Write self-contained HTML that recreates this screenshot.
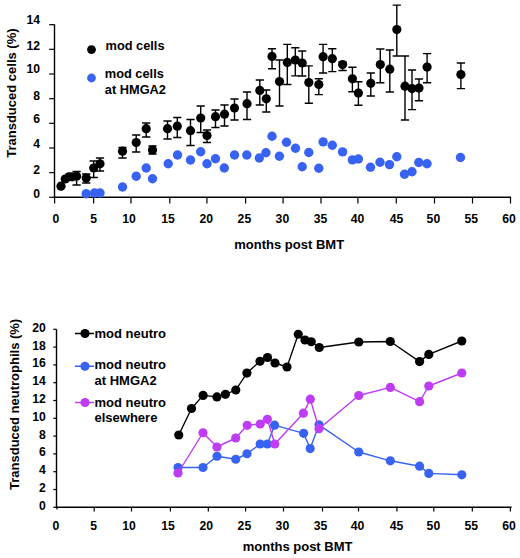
<!DOCTYPE html>
<html><head><meta charset="utf-8"><style>
html,body{margin:0;padding:0;background:#fff;}
body{width:520px;height:558px;overflow:hidden;}
svg{display:block;}
text{font-family:"Liberation Sans",sans-serif;font-weight:bold;fill:#000;}
</style></head><body>
<svg width="520" height="558" viewBox="0 0 520 558">
<rect width="520" height="558" fill="#fff"/>
<line x1="54.5" y1="24.4" x2="54.5" y2="198.0" stroke="#000" stroke-width="1.4"/>
<line x1="53.8" y1="197.3" x2="511.09000000000003" y2="197.3" stroke="#000" stroke-width="1.4"/>
<line x1="49.2" y1="197.30" x2="54.5" y2="197.30" stroke="#000" stroke-width="1.2"/>
<text x="40.0" y="197.60" text-anchor="end" font-size="12.2" >0</text>
<line x1="49.2" y1="172.64" x2="54.5" y2="172.64" stroke="#000" stroke-width="1.2"/>
<text x="40.0" y="173.80" text-anchor="end" font-size="12.2" >2</text>
<line x1="49.2" y1="147.98" x2="54.5" y2="147.98" stroke="#000" stroke-width="1.2"/>
<text x="40.0" y="148.00" text-anchor="end" font-size="12.2" >4</text>
<line x1="49.2" y1="123.32" x2="54.5" y2="123.32" stroke="#000" stroke-width="1.2"/>
<text x="40.0" y="122.90" text-anchor="end" font-size="12.2" >6</text>
<line x1="49.2" y1="98.66" x2="54.5" y2="98.66" stroke="#000" stroke-width="1.2"/>
<text x="40.0" y="99.80" text-anchor="end" font-size="12.2" >8</text>
<line x1="49.2" y1="74.00" x2="54.5" y2="74.00" stroke="#000" stroke-width="1.2"/>
<text x="40.0" y="73.40" text-anchor="end" font-size="12.2" >10</text>
<line x1="49.2" y1="49.34" x2="54.5" y2="49.34" stroke="#000" stroke-width="1.2"/>
<text x="40.0" y="49.90" text-anchor="end" font-size="12.2" >12</text>
<line x1="49.2" y1="24.68" x2="54.5" y2="24.68" stroke="#000" stroke-width="1.2"/>
<text x="40.0" y="24.00" text-anchor="end" font-size="12.2" >14</text>
<line x1="54.60" y1="197.3" x2="54.60" y2="203.5" stroke="#000" stroke-width="1.2"/>
<text x="56.00" y="222.6" text-anchor="middle" font-size="12.2" >0</text>
<line x1="93.65" y1="197.3" x2="93.65" y2="203.5" stroke="#000" stroke-width="1.2"/>
<text x="93.75" y="222.6" text-anchor="middle" font-size="12.2" >5</text>
<line x1="131.00" y1="197.3" x2="131.00" y2="203.5" stroke="#000" stroke-width="1.2"/>
<text x="129.10" y="222.6" text-anchor="middle" font-size="12.2" >10</text>
<line x1="169.80" y1="197.3" x2="169.80" y2="203.5" stroke="#000" stroke-width="1.2"/>
<text x="168.10" y="222.6" text-anchor="middle" font-size="12.2" >15</text>
<line x1="206.90" y1="197.3" x2="206.90" y2="203.5" stroke="#000" stroke-width="1.2"/>
<text x="206.25" y="222.6" text-anchor="middle" font-size="12.2" >20</text>
<line x1="245.60" y1="197.3" x2="245.60" y2="203.5" stroke="#000" stroke-width="1.2"/>
<text x="244.40" y="222.6" text-anchor="middle" font-size="12.2" >25</text>
<line x1="283.10" y1="197.3" x2="283.10" y2="203.5" stroke="#000" stroke-width="1.2"/>
<text x="282.40" y="222.6" text-anchor="middle" font-size="12.2" >30</text>
<line x1="321.00" y1="197.3" x2="321.00" y2="203.5" stroke="#000" stroke-width="1.2"/>
<text x="320.60" y="222.6" text-anchor="middle" font-size="12.2" >35</text>
<line x1="357.90" y1="197.3" x2="357.90" y2="203.5" stroke="#000" stroke-width="1.2"/>
<text x="357.50" y="222.6" text-anchor="middle" font-size="12.2" >40</text>
<line x1="396.30" y1="197.3" x2="396.30" y2="203.5" stroke="#000" stroke-width="1.2"/>
<text x="396.60" y="222.6" text-anchor="middle" font-size="12.2" >45</text>
<line x1="434.50" y1="197.3" x2="434.50" y2="203.5" stroke="#000" stroke-width="1.2"/>
<text x="433.40" y="222.6" text-anchor="middle" font-size="12.2" >50</text>
<line x1="472.50" y1="197.3" x2="472.50" y2="203.5" stroke="#000" stroke-width="1.2"/>
<text x="471.30" y="222.6" text-anchor="middle" font-size="12.2" >55</text>
<line x1="510.50" y1="197.3" x2="510.50" y2="203.5" stroke="#000" stroke-width="1.2"/>
<text x="509.00" y="222.6" text-anchor="middle" font-size="12.2" >60</text>
<text x="289.2" y="249.3" text-anchor="middle" font-size="13" >months post BMT</text>
<text transform="translate(15.9,93.1) rotate(-90)" x="0" y="0" text-anchor="middle" font-size="13">Transduced cells (%)</text>
<path d="M76.6 171.5V185M72.5 171.5H80.69999999999999M72.5 185H80.69999999999999" stroke="#000" stroke-width="1.4" fill="none"/>
<path d="M86.2 174V183M82.10000000000001 174H90.3M82.10000000000001 183H90.3" stroke="#000" stroke-width="1.4" fill="none"/>
<path d="M93.7 161V177.5M89.60000000000001 161H97.8M89.60000000000001 177.5H97.8" stroke="#000" stroke-width="1.4" fill="none"/>
<path d="M100.0 158V171M95.9 158H104.1M95.9 171H104.1" stroke="#000" stroke-width="1.4" fill="none"/>
<path d="M122.5 147.5V158M118.4 147.5H126.6M118.4 158H126.6" stroke="#000" stroke-width="1.4" fill="none"/>
<path d="M136.2 135V152M132.1 135H140.29999999999998M132.1 152H140.29999999999998" stroke="#000" stroke-width="1.4" fill="none"/>
<path d="M146.2 123V137M142.1 123H150.29999999999998M142.1 137H150.29999999999998" stroke="#000" stroke-width="1.4" fill="none"/>
<path d="M152.5 146V154M148.4 146H156.6M148.4 154H156.6" stroke="#000" stroke-width="1.4" fill="none"/>
<path d="M167.5 121V139M163.4 121H171.6M163.4 139H171.6" stroke="#000" stroke-width="1.4" fill="none"/>
<path d="M177.3 117.5V137.5M173.20000000000002 117.5H181.4M173.20000000000002 137.5H181.4" stroke="#000" stroke-width="1.4" fill="none"/>
<path d="M190.5 119.5V145.5M186.4 119.5H194.6M186.4 145.5H194.6" stroke="#000" stroke-width="1.4" fill="none"/>
<path d="M200.7 106V132.5M196.6 106H204.79999999999998M196.6 132.5H204.79999999999998" stroke="#000" stroke-width="1.4" fill="none"/>
<path d="M207.0 130V142.5M202.9 130H211.1M202.9 142.5H211.1" stroke="#000" stroke-width="1.4" fill="none"/>
<path d="M215.5 110V127.5M211.4 110H219.6M211.4 127.5H219.6" stroke="#000" stroke-width="1.4" fill="none"/>
<path d="M224.5 105V126M220.4 105H228.6M220.4 126H228.6" stroke="#000" stroke-width="1.4" fill="none"/>
<path d="M234.5 99V120M230.4 99H238.6M230.4 120H238.6" stroke="#000" stroke-width="1.4" fill="none"/>
<path d="M247.0 92V119.5M242.9 92H251.1M242.9 119.5H251.1" stroke="#000" stroke-width="1.4" fill="none"/>
<path d="M259.8 80V105M255.70000000000002 80H263.90000000000003M255.70000000000002 105H263.90000000000003" stroke="#000" stroke-width="1.4" fill="none"/>
<path d="M266.3 90V112M262.2 90H270.40000000000003M262.2 112H270.40000000000003" stroke="#000" stroke-width="1.4" fill="none"/>
<path d="M272.0 48.7V68.8M267.9 48.7H276.1M267.9 68.8H276.1" stroke="#000" stroke-width="1.4" fill="none"/>
<path d="M279.5 60V106M275.4 60H283.6M275.4 106H283.6" stroke="#000" stroke-width="1.4" fill="none"/>
<path d="M287.3 44.4V84.5M283.2 44.4H291.40000000000003M283.2 84.5H291.40000000000003" stroke="#000" stroke-width="1.4" fill="none"/>
<path d="M295.3 47.8V75.9M291.2 47.8H299.40000000000003M291.2 75.9H299.40000000000003" stroke="#000" stroke-width="1.4" fill="none"/>
<path d="M302.2 51V76M298.09999999999997 51H306.3M298.09999999999997 76H306.3" stroke="#000" stroke-width="1.4" fill="none"/>
<path d="M308.8 65.9V103.2M304.7 65.9H312.90000000000003M304.7 103.2H312.90000000000003" stroke="#000" stroke-width="1.4" fill="none"/>
<path d="M318.8 78.8V94.6M314.7 78.8H322.90000000000003M314.7 94.6H322.90000000000003" stroke="#000" stroke-width="1.4" fill="none"/>
<path d="M323.1 44.4V73M319.0 44.4H327.20000000000005M319.0 73H327.20000000000005" stroke="#000" stroke-width="1.4" fill="none"/>
<path d="M332.3 48.7V71.6M328.2 48.7H336.40000000000003M328.2 71.6H336.40000000000003" stroke="#000" stroke-width="1.4" fill="none"/>
<path d="M342.6 62V70.5M338.5 62H346.70000000000005M338.5 70.5H346.70000000000005" stroke="#000" stroke-width="1.4" fill="none"/>
<path d="M352.4 67.3V91.7M348.29999999999995 67.3H356.5M348.29999999999995 91.7H356.5" stroke="#000" stroke-width="1.4" fill="none"/>
<path d="M358.4 81.7V105.2M354.29999999999995 81.7H362.5M354.29999999999995 105.2H362.5" stroke="#000" stroke-width="1.4" fill="none"/>
<path d="M370.8 73V96M366.7 73H374.90000000000003M366.7 96H374.90000000000003" stroke="#000" stroke-width="1.4" fill="none"/>
<path d="M380.3 49V82.7M376.2 49H384.40000000000003M376.2 82.7H384.40000000000003" stroke="#000" stroke-width="1.4" fill="none"/>
<path d="M389.8 50V92M385.7 50H393.90000000000003M385.7 92H393.90000000000003" stroke="#000" stroke-width="1.4" fill="none"/>
<path d="M396.8 5.1V56M392.7 5.1H400.90000000000003M392.7 56H400.90000000000003" stroke="#000" stroke-width="1.4" fill="none"/>
<path d="M405.0 56V120M400.9 56H409.1M400.9 120H409.1" stroke="#000" stroke-width="1.4" fill="none"/>
<path d="M412.0 70V109.6M407.9 70H416.1M407.9 109.6H416.1" stroke="#000" stroke-width="1.4" fill="none"/>
<path d="M419.0 79V100.7M414.9 79H423.1M414.9 100.7H423.1" stroke="#000" stroke-width="1.4" fill="none"/>
<path d="M427.1 53.6V82.7M423.0 53.6H431.20000000000005M423.0 82.7H431.20000000000005" stroke="#000" stroke-width="1.4" fill="none"/>
<path d="M460.9 63V88.6M456.79999999999995 63H465.0M456.79999999999995 88.6H465.0" stroke="#000" stroke-width="1.4" fill="none"/>
<circle cx="61.0" cy="186.2" r="4.6" fill="#000"/>
<circle cx="65.2" cy="179.0" r="4.6" fill="#000"/>
<circle cx="68.8" cy="176.8" r="4.6" fill="#000"/>
<circle cx="72.2" cy="176.8" r="4.6" fill="#000"/>
<circle cx="76.6" cy="176.2" r="4.6" fill="#000"/>
<circle cx="86.2" cy="178.0" r="4.6" fill="#000"/>
<circle cx="93.7" cy="168.0" r="4.6" fill="#000"/>
<circle cx="100.0" cy="163.8" r="4.6" fill="#000"/>
<circle cx="122.5" cy="151.2" r="4.6" fill="#000"/>
<circle cx="136.2" cy="142.5" r="4.6" fill="#000"/>
<circle cx="146.2" cy="128.7" r="4.6" fill="#000"/>
<circle cx="152.5" cy="150.0" r="4.6" fill="#000"/>
<circle cx="167.5" cy="128.7" r="4.6" fill="#000"/>
<circle cx="177.3" cy="126.2" r="4.6" fill="#000"/>
<circle cx="190.5" cy="130.7" r="4.6" fill="#000"/>
<circle cx="200.7" cy="118.0" r="4.6" fill="#000"/>
<circle cx="207.0" cy="135.5" r="4.6" fill="#000"/>
<circle cx="215.5" cy="116.7" r="4.6" fill="#000"/>
<circle cx="224.5" cy="114.2" r="4.6" fill="#000"/>
<circle cx="234.5" cy="108.0" r="4.6" fill="#000"/>
<circle cx="247.0" cy="103.7" r="4.6" fill="#000"/>
<circle cx="259.8" cy="90.4" r="4.6" fill="#000"/>
<circle cx="266.3" cy="98.8" r="4.6" fill="#000"/>
<circle cx="272.0" cy="56.4" r="4.6" fill="#000"/>
<circle cx="279.5" cy="81.5" r="4.6" fill="#000"/>
<circle cx="287.3" cy="62.4" r="4.6" fill="#000"/>
<circle cx="295.3" cy="60.1" r="4.6" fill="#000"/>
<circle cx="302.2" cy="63.0" r="4.6" fill="#000"/>
<circle cx="308.8" cy="82.5" r="4.6" fill="#000"/>
<circle cx="318.8" cy="84.5" r="4.6" fill="#000"/>
<circle cx="323.1" cy="56.7" r="4.6" fill="#000"/>
<circle cx="332.3" cy="58.7" r="4.6" fill="#000"/>
<circle cx="342.6" cy="64.6" r="4.6" fill="#000"/>
<circle cx="352.4" cy="78.8" r="4.6" fill="#000"/>
<circle cx="358.4" cy="93.1" r="4.6" fill="#000"/>
<circle cx="370.8" cy="83.3" r="4.6" fill="#000"/>
<circle cx="380.3" cy="64.6" r="4.6" fill="#000"/>
<circle cx="389.8" cy="69.2" r="4.6" fill="#000"/>
<circle cx="396.8" cy="29.6" r="4.6" fill="#000"/>
<circle cx="405.0" cy="86.2" r="4.6" fill="#000"/>
<circle cx="412.0" cy="88.6" r="4.6" fill="#000"/>
<circle cx="419.0" cy="88.1" r="4.6" fill="#000"/>
<circle cx="427.1" cy="67.1" r="4.6" fill="#000"/>
<circle cx="460.9" cy="74.6" r="4.6" fill="#000"/>
<circle cx="86.2" cy="193.7" r="4.699999999999999" fill="#3863f2"/>
<circle cx="94.5" cy="193.0" r="4.699999999999999" fill="#3863f2"/>
<circle cx="100.0" cy="193.0" r="4.699999999999999" fill="#3863f2"/>
<circle cx="122.5" cy="187.0" r="4.699999999999999" fill="#3863f2"/>
<circle cx="136.2" cy="176.2" r="4.699999999999999" fill="#3863f2"/>
<circle cx="146.2" cy="168.0" r="4.699999999999999" fill="#3863f2"/>
<circle cx="152.5" cy="178.7" r="4.699999999999999" fill="#3863f2"/>
<circle cx="168.2" cy="163.7" r="4.699999999999999" fill="#3863f2"/>
<circle cx="177.5" cy="155.0" r="4.699999999999999" fill="#3863f2"/>
<circle cx="190.5" cy="160.0" r="4.699999999999999" fill="#3863f2"/>
<circle cx="200.7" cy="151.7" r="4.699999999999999" fill="#3863f2"/>
<circle cx="207.0" cy="163.7" r="4.699999999999999" fill="#3863f2"/>
<circle cx="215.5" cy="158.7" r="4.699999999999999" fill="#3863f2"/>
<circle cx="224.3" cy="168.0" r="4.699999999999999" fill="#3863f2"/>
<circle cx="234.5" cy="155.0" r="4.699999999999999" fill="#3863f2"/>
<circle cx="246.8" cy="155.0" r="4.699999999999999" fill="#3863f2"/>
<circle cx="259.3" cy="158.0" r="4.699999999999999" fill="#3863f2"/>
<circle cx="265.9" cy="152.7" r="4.699999999999999" fill="#3863f2"/>
<circle cx="272.0" cy="136.2" r="4.699999999999999" fill="#3863f2"/>
<circle cx="279.4" cy="156.2" r="4.699999999999999" fill="#3863f2"/>
<circle cx="286.5" cy="142.2" r="4.699999999999999" fill="#3863f2"/>
<circle cx="295.5" cy="148.2" r="4.699999999999999" fill="#3863f2"/>
<circle cx="302.2" cy="166.8" r="4.699999999999999" fill="#3863f2"/>
<circle cx="308.8" cy="152.5" r="4.699999999999999" fill="#3863f2"/>
<circle cx="318.8" cy="168.2" r="4.699999999999999" fill="#3863f2"/>
<circle cx="323.1" cy="141.9" r="4.699999999999999" fill="#3863f2"/>
<circle cx="332.3" cy="145.3" r="4.699999999999999" fill="#3863f2"/>
<circle cx="342.6" cy="151.9" r="4.699999999999999" fill="#3863f2"/>
<circle cx="352.4" cy="159.9" r="4.699999999999999" fill="#3863f2"/>
<circle cx="358.4" cy="159.0" r="4.699999999999999" fill="#3863f2"/>
<circle cx="370.5" cy="167.3" r="4.699999999999999" fill="#3863f2"/>
<circle cx="380.0" cy="162.3" r="4.699999999999999" fill="#3863f2"/>
<circle cx="389.5" cy="164.6" r="4.699999999999999" fill="#3863f2"/>
<circle cx="396.8" cy="156.8" r="4.699999999999999" fill="#3863f2"/>
<circle cx="404.5" cy="174.3" r="4.699999999999999" fill="#3863f2"/>
<circle cx="412.0" cy="171.8" r="4.699999999999999" fill="#3863f2"/>
<circle cx="418.8" cy="162.5" r="4.699999999999999" fill="#3863f2"/>
<circle cx="427.0" cy="163.8" r="4.699999999999999" fill="#3863f2"/>
<circle cx="460.5" cy="157.5" r="4.699999999999999" fill="#3863f2"/>
<circle cx="91.5" cy="49.6" r="4.4" fill="#000"/>
<text x="105.5" y="50.3" text-anchor="start" font-size="12.8" >mod cells</text>
<circle cx="91.5" cy="78" r="4.4" fill="#3863f2"/>
<text x="104.8" y="78" text-anchor="start" font-size="12.8" >mod cells</text>
<text x="104.8" y="93.5" text-anchor="start" font-size="12.8" >at HMGA2</text>
<line x1="56.5" y1="329.3" x2="56.5" y2="508.0" stroke="#000" stroke-width="1.4"/>
<line x1="55.8" y1="507.3" x2="511.62" y2="507.3" stroke="#000" stroke-width="1.4"/>
<line x1="53.3" y1="507.30" x2="56.5" y2="507.30" stroke="#000" stroke-width="1.2"/>
<text x="45.8" y="509.80" text-anchor="end" font-size="12.2" >0</text>
<line x1="53.3" y1="489.50" x2="56.5" y2="489.50" stroke="#000" stroke-width="1.2"/>
<text x="45.8" y="492.00" text-anchor="end" font-size="12.2" >2</text>
<line x1="53.3" y1="471.70" x2="56.5" y2="471.70" stroke="#000" stroke-width="1.2"/>
<text x="45.8" y="474.20" text-anchor="end" font-size="12.2" >4</text>
<line x1="53.3" y1="453.90" x2="56.5" y2="453.90" stroke="#000" stroke-width="1.2"/>
<text x="45.8" y="456.40" text-anchor="end" font-size="12.2" >6</text>
<line x1="53.3" y1="436.10" x2="56.5" y2="436.10" stroke="#000" stroke-width="1.2"/>
<text x="45.8" y="438.60" text-anchor="end" font-size="12.2" >8</text>
<line x1="53.3" y1="418.30" x2="56.5" y2="418.30" stroke="#000" stroke-width="1.2"/>
<text x="45.8" y="420.80" text-anchor="end" font-size="12.2" >10</text>
<line x1="53.3" y1="400.50" x2="56.5" y2="400.50" stroke="#000" stroke-width="1.2"/>
<text x="45.8" y="403.00" text-anchor="end" font-size="12.2" >12</text>
<line x1="53.3" y1="382.70" x2="56.5" y2="382.70" stroke="#000" stroke-width="1.2"/>
<text x="45.8" y="385.20" text-anchor="end" font-size="12.2" >14</text>
<line x1="53.3" y1="364.90" x2="56.5" y2="364.90" stroke="#000" stroke-width="1.2"/>
<text x="45.8" y="367.40" text-anchor="end" font-size="12.2" >16</text>
<line x1="53.3" y1="347.10" x2="56.5" y2="347.10" stroke="#000" stroke-width="1.2"/>
<text x="45.8" y="349.60" text-anchor="end" font-size="12.2" >18</text>
<line x1="53.3" y1="329.30" x2="56.5" y2="329.30" stroke="#000" stroke-width="1.2"/>
<text x="45.8" y="331.80" text-anchor="end" font-size="12.2" >20</text>
<line x1="56.90" y1="507.3" x2="56.90" y2="509.6" stroke="#000" stroke-width="1.2"/>
<text x="56.00" y="530.0" text-anchor="middle" font-size="12.2" >0</text>
<line x1="94.20" y1="507.3" x2="94.20" y2="511.5" stroke="#000" stroke-width="1.2"/>
<text x="93.75" y="530.0" text-anchor="middle" font-size="12.2" >5</text>
<line x1="131.50" y1="507.3" x2="131.50" y2="511.5" stroke="#000" stroke-width="1.2"/>
<text x="129.10" y="530.0" text-anchor="middle" font-size="12.2" >10</text>
<line x1="170.40" y1="507.3" x2="170.40" y2="511.5" stroke="#000" stroke-width="1.2"/>
<text x="168.10" y="530.0" text-anchor="middle" font-size="12.2" >15</text>
<line x1="208.30" y1="507.3" x2="208.30" y2="511.5" stroke="#000" stroke-width="1.2"/>
<text x="206.25" y="530.0" text-anchor="middle" font-size="12.2" >20</text>
<line x1="245.60" y1="507.3" x2="245.60" y2="511.5" stroke="#000" stroke-width="1.2"/>
<text x="244.40" y="530.0" text-anchor="middle" font-size="12.2" >25</text>
<line x1="283.50" y1="507.3" x2="283.50" y2="511.5" stroke="#000" stroke-width="1.2"/>
<text x="282.40" y="530.0" text-anchor="middle" font-size="12.2" >30</text>
<line x1="322.50" y1="507.3" x2="322.50" y2="511.5" stroke="#000" stroke-width="1.2"/>
<text x="320.60" y="530.0" text-anchor="middle" font-size="12.2" >35</text>
<line x1="358.50" y1="507.3" x2="358.50" y2="511.5" stroke="#000" stroke-width="1.2"/>
<text x="357.50" y="530.0" text-anchor="middle" font-size="12.2" >40</text>
<line x1="396.90" y1="507.3" x2="396.90" y2="511.5" stroke="#000" stroke-width="1.2"/>
<text x="396.60" y="530.0" text-anchor="middle" font-size="12.2" >45</text>
<line x1="433.80" y1="507.3" x2="433.80" y2="511.5" stroke="#000" stroke-width="1.2"/>
<text x="433.40" y="530.0" text-anchor="middle" font-size="12.2" >50</text>
<line x1="472.30" y1="507.3" x2="472.30" y2="511.5" stroke="#000" stroke-width="1.2"/>
<text x="471.30" y="530.0" text-anchor="middle" font-size="12.2" >55</text>
<line x1="510.40" y1="507.3" x2="510.40" y2="511.5" stroke="#000" stroke-width="1.2"/>
<text x="509.00" y="530.0" text-anchor="middle" font-size="12.2" >60</text>
<text x="297.6" y="551.0" text-anchor="middle" font-size="13" >months post BMT</text>
<text transform="translate(18.9,404.4) rotate(-90)" x="0" y="0" text-anchor="middle" font-size="13">Transduced neutrophils (%)</text>
<polyline points="178,467.5 203,467.5 217,456.25 235.75,459.25 247,453.75 260.2,444 267.4,444 274.6,425.2 303.6,433.3 310.2,448.6 319,424.8 358.75,452 390.3,460.8 419.6,466.2 428.8,473.4 461.8,474.8" fill="none" stroke="#3863f2" stroke-width="1.4" stroke-linejoin="round"/>
<circle cx="178" cy="467.5" r="4.6" fill="#3863f2"/>
<circle cx="203" cy="467.5" r="4.6" fill="#3863f2"/>
<circle cx="217" cy="456.25" r="4.6" fill="#3863f2"/>
<circle cx="235.75" cy="459.25" r="4.6" fill="#3863f2"/>
<circle cx="247" cy="453.75" r="4.6" fill="#3863f2"/>
<circle cx="260.2" cy="444" r="4.6" fill="#3863f2"/>
<circle cx="267.4" cy="444" r="4.6" fill="#3863f2"/>
<circle cx="274.6" cy="425.2" r="4.6" fill="#3863f2"/>
<circle cx="303.6" cy="433.3" r="4.6" fill="#3863f2"/>
<circle cx="310.2" cy="448.6" r="4.6" fill="#3863f2"/>
<circle cx="319" cy="424.8" r="4.6" fill="#3863f2"/>
<circle cx="358.75" cy="452" r="4.6" fill="#3863f2"/>
<circle cx="390.3" cy="460.8" r="4.6" fill="#3863f2"/>
<circle cx="419.6" cy="466.2" r="4.6" fill="#3863f2"/>
<circle cx="428.8" cy="473.4" r="4.6" fill="#3863f2"/>
<circle cx="461.8" cy="474.8" r="4.6" fill="#3863f2"/>
<polyline points="178,473 203,432.75 217,447 235.75,438 247.2,425.3 260.2,424 267.4,419.3 274.8,444 303.4,413.2 310.3,399.2 319,428.7 358.75,395.5 390.3,387.4 419.6,401.7 428.8,386 461.8,373" fill="none" stroke="#bf3cf5" stroke-width="1.4" stroke-linejoin="round"/>
<circle cx="178" cy="473" r="4.6" fill="#bf3cf5"/>
<circle cx="203" cy="432.75" r="4.6" fill="#bf3cf5"/>
<circle cx="217" cy="447" r="4.6" fill="#bf3cf5"/>
<circle cx="235.75" cy="438" r="4.6" fill="#bf3cf5"/>
<circle cx="247.2" cy="425.3" r="4.6" fill="#bf3cf5"/>
<circle cx="260.2" cy="424" r="4.6" fill="#bf3cf5"/>
<circle cx="267.4" cy="419.3" r="4.6" fill="#bf3cf5"/>
<circle cx="274.8" cy="444" r="4.6" fill="#bf3cf5"/>
<circle cx="303.4" cy="413.2" r="4.6" fill="#bf3cf5"/>
<circle cx="310.3" cy="399.2" r="4.6" fill="#bf3cf5"/>
<circle cx="319" cy="428.7" r="4.6" fill="#bf3cf5"/>
<circle cx="358.75" cy="395.5" r="4.6" fill="#bf3cf5"/>
<circle cx="390.3" cy="387.4" r="4.6" fill="#bf3cf5"/>
<circle cx="419.6" cy="401.7" r="4.6" fill="#bf3cf5"/>
<circle cx="428.8" cy="386" r="4.6" fill="#bf3cf5"/>
<circle cx="461.8" cy="373" r="4.6" fill="#bf3cf5"/>
<polyline points="178.75,435 191.5,408.5 203.1,395.4 216.9,396.9 225.4,394.3 235.8,390 246.9,373.1 260,361.25 267.5,357.5 275,363 287,367 298.25,334.25 305,340 311.25,341.75 319.25,347.5 358.75,342 390.25,341.5 419.6,361.6 428.8,354.4 461.8,341" fill="none" stroke="#000" stroke-width="1.35" stroke-linejoin="round"/>
<circle cx="178.75" cy="435" r="4.6" fill="#000"/>
<circle cx="191.5" cy="408.5" r="4.6" fill="#000"/>
<circle cx="203.1" cy="395.4" r="4.6" fill="#000"/>
<circle cx="216.9" cy="396.9" r="4.6" fill="#000"/>
<circle cx="225.4" cy="394.3" r="4.6" fill="#000"/>
<circle cx="235.8" cy="390" r="4.6" fill="#000"/>
<circle cx="246.9" cy="373.1" r="4.6" fill="#000"/>
<circle cx="260" cy="361.25" r="4.6" fill="#000"/>
<circle cx="267.5" cy="357.5" r="4.6" fill="#000"/>
<circle cx="275" cy="363" r="4.6" fill="#000"/>
<circle cx="287" cy="367" r="4.6" fill="#000"/>
<circle cx="298.25" cy="334.25" r="4.6" fill="#000"/>
<circle cx="305" cy="340" r="4.6" fill="#000"/>
<circle cx="311.25" cy="341.75" r="4.6" fill="#000"/>
<circle cx="319.25" cy="347.5" r="4.6" fill="#000"/>
<circle cx="358.75" cy="342" r="4.6" fill="#000"/>
<circle cx="390.25" cy="341.5" r="4.6" fill="#000"/>
<circle cx="419.6" cy="361.6" r="4.6" fill="#000"/>
<circle cx="428.8" cy="354.4" r="4.6" fill="#000"/>
<circle cx="461.8" cy="341" r="4.6" fill="#000"/>
<line x1="75" y1="333.5" x2="94" y2="333.5" stroke="#000" stroke-width="1.5"/>
<circle cx="85" cy="333.5" r="4.6" fill="#000"/>
<line x1="75" y1="366.25" x2="94" y2="366.25" stroke="#3863f2" stroke-width="1.5"/>
<circle cx="85" cy="366.25" r="4.6" fill="#3863f2"/>
<line x1="75" y1="402.5" x2="94" y2="402.5" stroke="#bf3cf5" stroke-width="1.5"/>
<circle cx="85" cy="402.5" r="4.6" fill="#bf3cf5"/>
<text x="94.5" y="337.5" text-anchor="start" font-size="13" >mod neutro</text>
<text x="94.5" y="369.1" text-anchor="start" font-size="13" >mod neutro</text>
<text x="94.5" y="384.5" text-anchor="start" font-size="13" >at HMGA2</text>
<text x="94.5" y="406.5" text-anchor="start" font-size="13" >mod neutro</text>
<text x="94.5" y="421.75" text-anchor="start" font-size="13" >elsewhere</text>
</svg>
</body></html>
